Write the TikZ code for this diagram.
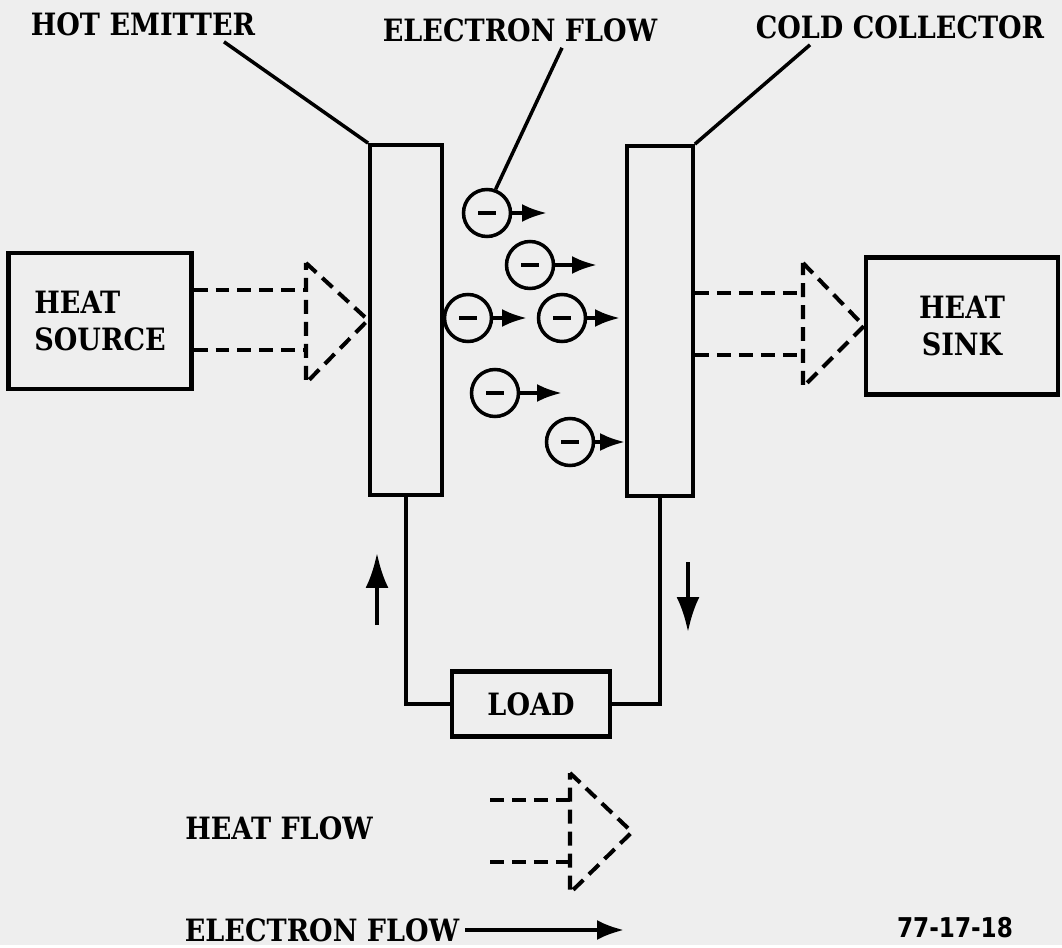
\documentclass[tikz,border=0pt]{standalone}
\usepackage{fontspec}
\setmainfont{DejaVu Serif}[FakeStretch=0.88]
\setsansfont{DejaVu Sans}[FakeStretch=0.85]
\usetikzlibrary{arrows.meta}

\definecolor{paper}{gray}{0.935}
\newcommand{\lblfont}{\fontsize{17.5}{21}\selectfont\bfseries}
\newcommand{\minusbar}{\rule{0.36cm}{0.09cm}}

\tikzset{
  plate/.style={draw, line width=2.2pt, minimum width=#1, minimum height=7cm, inner sep=0pt},
  blk/.style={draw, line width=2.3pt, font=\lblfont, inner sep=0pt},
  tag/.style={font=\lblfont},
  elec/.style={draw, circle, line width=2pt, minimum size=0.94cm, inner sep=0pt},
  eflow/.style={line width=2.2pt, -{Latex[length=0.5cm,width=0.36cm]}},
  wire/.style={line width=2.2pt},
  warrow/.style={line width=2.4pt, -{Latex[length=0.7cm,width=0.46cm]}},
  heat/.style={dash pattern=on 0.28cm off 0.16cm, line width=2.3pt},
  ptr/.style={line width=2pt}
}

\begin{document}
\begin{tikzpicture}[x=0.02cm, y=-0.02cm]
  % 0. page
  \fill[paper] (0,0) rectangle (1062,945);

  % 1. emitter and collector plates
  \node[plate=1.44cm] (em) at (406,320) {};
  \node[plate=1.32cm] (col) at (660,321) {};

  % 2. heat source, heat sink, load
  \node[blk, minimum width=3.66cm, minimum height=2.72cm, align=left] (src) at (100,321) {HEAT\\SOURCE};
  \node[blk, minimum width=3.84cm, minimum height=2.74cm, align=center] (sink) at (962,326) {HEAT\\SINK};
  \node[blk, minimum width=3.16cm, minimum height=1.3cm] (load) at (531,704) {LOAD};

  % 3. external circuit
  \draw[wire] (em.south) |- (load.west);
  \draw[wire] (col.south) |- (load.east);
  \coordinate (upA) at (377,625);
  \coordinate (upB) at (377,553);
  \draw[warrow] (upA) -- (upB);
  \coordinate (dnA) at (688,562);
  \coordinate (dnB) at (688,632);
  \draw[warrow] (dnA) -- (dnB);

  % 4. electrons between the plates
  \node[elec] (e1) at (487,213) {\minusbar};
  \node[elec] (e2) at (530,265) {\minusbar};
  \node[elec] (e3) at (468,318) {\minusbar};
  \node[elec] (e4) at (562,318) {\minusbar};
  \node[elec] (e5) at (495,393) {\minusbar};
  \node[elec] (e6) at (570,442) {\minusbar};
  \coordinate (t1) at (547,213);
  \coordinate (t2) at (597,265);
  \coordinate (t3) at (527,318);
  \coordinate (t4) at (620,318);
  \coordinate (t5) at (562,393);
  \draw[eflow] (e1) -- (t1);
  \draw[eflow] (e2) -- (t2);
  \draw[eflow] (e3) -- (t3);
  \draw[eflow] (e4) -- (t4);
  \draw[eflow] (e5) -- (t5);
  \draw[eflow] (e6) -- (e6 -| col.west);

  % 5. heat flow in and out
  \coordinate (hin1) at (306,290);
  \coordinate (hin2) at (306,350);
  \draw[heat] (src.east |- hin1) -- (hin1);
  \draw[heat] (src.east |- hin2) -- (hin2);
  \draw[heat] (306,263) -- (em.west) -- (306,383) -- cycle;
  \coordinate (hout1) at (803,293);
  \coordinate (hout2) at (803,355);
  \draw[heat] (col.east |- hout1) -- (hout1);
  \draw[heat] (col.east |- hout2) -- (hout2);
  \draw[heat] (803,263) -- (sink.west) -- (803,387) -- cycle;

  % 6. top labels
  \node[tag] (hot) at (143,24) {HOT EMITTER};
  \draw[ptr] ([xshift=1.62cm]hot.south) -- (em.north west);
  \node[tag] (eltop) at (520,30) {ELECTRON FLOW};
  \draw[ptr] ([xshift=0.84cm]eltop.south) -- (e1.70);
  \node[tag] (cold) at (900,27) {COLD COLLECTOR};
  \draw[ptr] ([xshift=-1.8cm]cold.south) -- (col.north east);

  % 7. legend
  \node[tag] (hleg) at (279,828) {HEAT FLOW};
  \draw[heat] (490,800) -- (570,800);
  \draw[heat] (490,862) -- (570,862);
  \draw[heat] (570,773) -- (632,832) -- (570,893) -- cycle;
  \node[tag] (eleg) at (322,930) {ELECTRON FLOW};
  \coordinate (elegend) at (624,928);
  \draw[line width=2.2pt, -{Latex[length=0.54cm,width=0.4cm]}] (eleg.east) -- (eleg.east -| elegend);
  \node[font=\fontsize{15.5}{18}\selectfont\sffamily\bfseries] (figno) at (955,928) {77-17-18};
\end{tikzpicture}
\end{document}
